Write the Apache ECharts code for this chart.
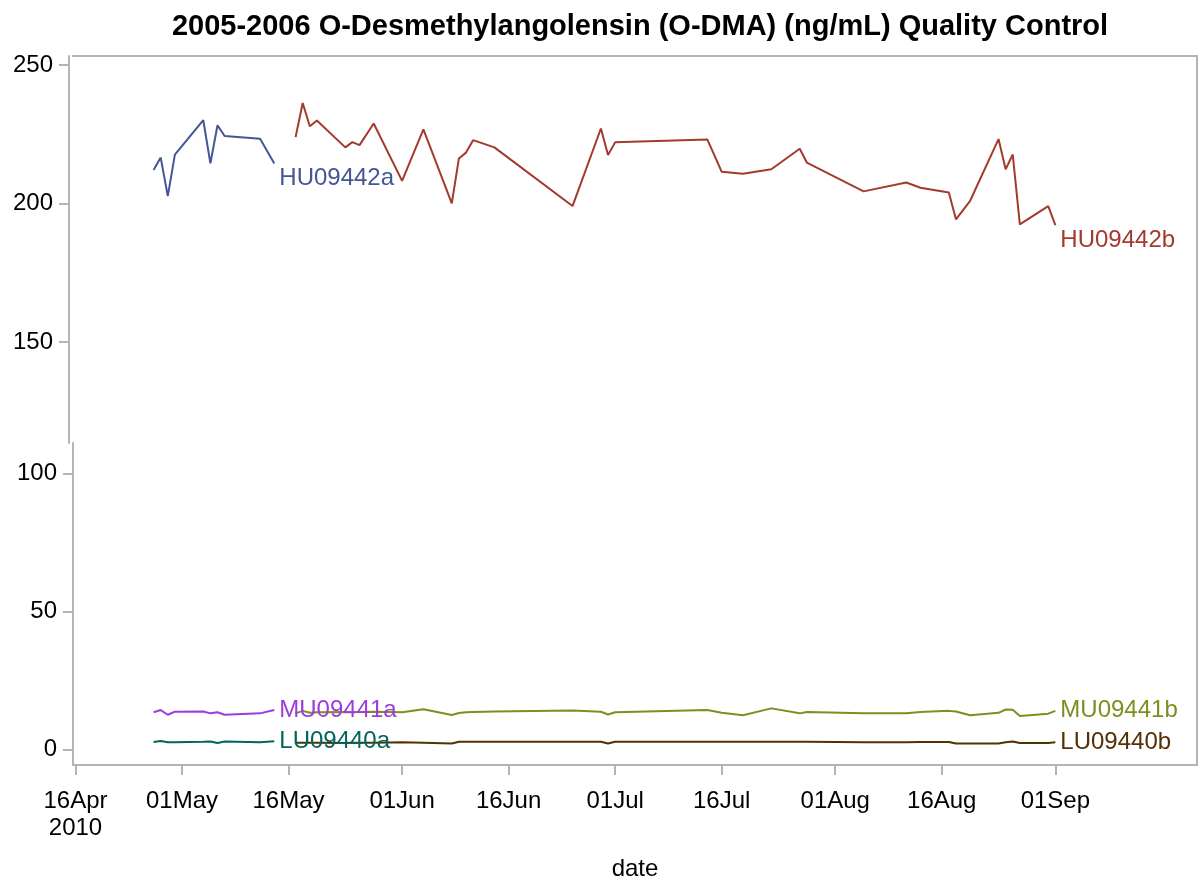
<!DOCTYPE html>
<html>
<head>
<meta charset="utf-8">
<title>O-DMA Quality Control</title>
<script src="https://cdn.jsdelivr.net/npm/echarts@6/dist/echarts.min.js"></script>
<style>
  html, body { margin: 0; padding: 0; background: #fff; }
  #main { width: 1199px; height: 880px; }
</style>
</head>
<body>
<div id="main"></div>
<script>
// run dates of the two lots
const datesA = ['2010-04-27', '2010-04-28', '2010-04-29', '2010-04-30', '2010-05-04',
  '2010-05-05', '2010-05-06', '2010-05-07', '2010-05-12', '2010-05-14'];
const datesB = ['2010-05-17', '2010-05-18', '2010-05-19', '2010-05-20', '2010-05-24',
  '2010-05-25', '2010-05-26', '2010-05-28', '2010-06-01', '2010-06-04', '2010-06-08',
  '2010-06-09', '2010-06-10', '2010-06-11', '2010-06-14', '2010-06-25', '2010-06-29',
  '2010-06-30', '2010-07-01', '2010-07-14', '2010-07-16', '2010-07-19', '2010-07-23',
  '2010-07-27', '2010-07-28', '2010-08-05', '2010-08-11', '2010-08-13', '2010-08-17',
  '2010-08-18', '2010-08-20', '2010-08-24', '2010-08-25', '2010-08-26', '2010-08-27',
  '2010-08-31', '2010-09-01'];

// high pool
const hu09442a = [212.1, 216.6, 202.7, 217.7, 230.1, 214.5, 228.3, 224.4, 223.4, 214.5];
const hu09442b = [224.0, 236.3, 227.9, 230.0, 220.3, 222.2, 221.1, 228.9, 208.2, 226.8,
  200.1, 216.3, 218.4, 222.9, 220.3, 199.1, 227.1, 217.5, 222.1, 223.1, 211.5, 210.8,
  212.4, 219.8, 214.8, 204.4, 207.6, 205.7, 204.0, 194.3, 201.0, 223.3, 212.4, 217.7,
  192.5, 199.1, 192.2];
// medium pool
const mu09441a = [13.5, 14.3, 12.6, 13.7, 13.8, 13.1, 13.5, 12.6, 13.1, 14.3];
const mu09441b = [13.1, 14.0, 13.3, 13.5, 13.6, 13.5, 13.6, 13.7, 13.5, 14.6,
  12.5, 13.2, 13.5, 13.6, 13.8, 14.1, 13.7, 12.7, 13.5, 14.3, 13.3, 12.4,
  14.9, 13.1, 13.6, 13.1, 13.1, 13.6, 14.0, 13.8, 12.4, 13.3, 14.5, 14.4,
  12.1, 13.0, 14.0];
// low pool
const lu09440a = [2.7, 3.1, 2.6, 2.6, 2.8, 2.9, 2.4, 2.9, 2.6, 3.0];
const lu09440b = [2.5, 2.5, 2.5, 2.5, 2.4, 2.5, 2.5, 2.5, 2.6, 2.5,
  2.2, 2.8, 2.8, 2.8, 2.8, 2.8, 2.8, 2.2, 2.8, 2.8, 2.8, 2.8,
  2.8, 2.8, 2.8, 2.6, 2.6, 2.7, 2.7, 2.2, 2.2, 2.2, 2.6, 2.9,
  2.4, 2.4, 2.6];

const xTicks = ['2010-04-16', '2010-05-01', '2010-05-16', '2010-06-01', '2010-06-16',
  '2010-07-01', '2010-07-16', '2010-08-01', '2010-08-16', '2010-09-01'];
const upperTicks = [150, 200, 250];
const lowerTicks = [0, 50, 100];

const monthNames = ['Jan', 'Feb', 'Mar', 'Apr', 'May', 'Jun', 'Jul', 'Aug', 'Sep', 'Oct', 'Nov', 'Dec'];
const DAY = 86400000;

function toTime(s) {
  const p = s.split('-').map(Number);
  return Date.UTC(p[0], p[1] - 1, p[2]);
}
function pairs(dates, vals) {
  return dates.map((d, i) => [toTime(d), vals[i]]);
}

const start = toTime('2010-04-16');
const xMin = start - 0.35 * DAY;
const xMax = start + 157.95 * DAY;
const tickTimes = xTicks.map(toTime);

const FONT = '"Liberation Sans", Arial, Helvetica, sans-serif';
const AXIS = '#b4b4b4';
const colors = {
  hu09442a: '#445694', hu09442b: '#A23A2E',
  lu09440a: '#01665E', lu09440b: '#543005',
  mu09441a: '#9D3CDB', mu09441b: '#7F8E1F'
};

const myChart = echarts.init(document.getElementById('main'));

function line(name, dates, vals, axis, dy) {
  const c = colors[name.toLowerCase()];
  return {
    name: name,
    type: 'line',
    xAxisIndex: axis,
    yAxisIndex: axis * 2,
    data: pairs(dates, vals),
    showSymbol: false,
    symbol: 'none',
    lineStyle: { width: 2, color: c },
    itemStyle: { color: c },
    endLabel: {
      show: true,
      formatter: name,
      color: c,
      fontSize: 24,
      fontFamily: FONT,
      distance: 5,
      offset: [0, dy]
    },
    z: 3
  };
}

const option = {
  animation: false,
  backgroundColor: '#fff',
  textStyle: { fontFamily: FONT },
  title: {
    text: '2005-2006 O-Desmethylangolensin (O-DMA) (ng/mL) Quality Control',
    left: 635,
    textAlign: 'center',
    top: 7,
    textStyle: { fontSize: 29, fontWeight: 'bold', color: '#000', fontFamily: FONT }
  },
  grid: [
    { left: 73, right: 2, top: 56, height: 387, outerBoundsMode: 'none', containLabel: false },
    { left: 73, right: 2, top: 443, bottom: 115, outerBoundsMode: 'none', containLabel: false }
  ],
  xAxis: [
    {
      type: 'value', gridIndex: 0, position: 'top', min: xMin, max: xMax,
      axisLine: { show: true, onZero: false, lineStyle: { color: AXIS, width: 2 } },
      axisTick: { show: false }, axisLabel: { show: false }, splitLine: { show: false }
    },
    {
      type: 'value', gridIndex: 1, position: 'bottom', min: xMin, max: xMax,
      name: 'date', nameLocation: 'middle', nameGap: 92,
      nameTextStyle: { fontSize: 24, color: '#000', fontFamily: FONT },
      axisLine: { show: true, onZero: false, lineStyle: { color: AXIS, width: 2 } },
      axisTick: { show: true, length: 10, customValues: tickTimes, lineStyle: { color: AXIS, width: 2 } },
      axisLabel: {
        show: true, customValues: tickTimes, margin: 23, fontSize: 24, color: '#000',
        fontFamily: FONT, lineHeight: 27, hideOverlap: false,
        formatter: function (v) {
          const d = new Date(v);
          const s = String(d.getUTCDate()).padStart(2, '0') + monthNames[d.getUTCMonth()];
          return v === tickTimes[0] ? s + '\n' + d.getUTCFullYear() : s;
        }
      },
      splitLine: { show: false }
    }
  ],
  yAxis: [
    {
      type: 'value', gridIndex: 0, min: 113.5, max: 253.3, offset: 4,
      axisLine: { show: true, lineStyle: { color: AXIS, width: 2 } },
      axisTick: { show: true, length: 10, customValues: upperTicks, lineStyle: { color: AXIS, width: 2 } },
      axisLabel: { customValues: upperTicks, margin: 16, fontSize: 24, color: '#000', fontFamily: FONT },
      splitLine: { show: false }
    },
    {
      type: 'value', gridIndex: 0, position: 'right', min: 113.5, max: 253.3,
      axisLine: { show: true, lineStyle: { color: AXIS, width: 2 } },
      axisTick: { show: false }, axisLabel: { show: false }, splitLine: { show: false }
    },
    {
      type: 'value', gridIndex: 1, min: -5.6, max: 111,
      axisLine: { show: true, lineStyle: { color: AXIS, width: 2 } },
      axisTick: { show: true, length: 10, customValues: lowerTicks, lineStyle: { color: AXIS, width: 2 } },
      axisLabel: { customValues: lowerTicks, margin: 16, fontSize: 24, color: '#000', fontFamily: FONT },
      splitLine: { show: false }
    },
    {
      type: 'value', gridIndex: 1, position: 'right', min: -5.6, max: 111,
      axisLine: { show: true, lineStyle: { color: AXIS, width: 2 } },
      axisTick: { show: false }, axisLabel: { show: false }, splitLine: { show: false }
    }
  ],
  series: [
    line('HU09442a', datesA, hu09442a, 0, 15),
    line('HU09442b', datesB, hu09442b, 0, 15),
    line('MU09441a', datesA, mu09441a, 1, 0),
    line('MU09441b', datesB, mu09441b, 1, 0),
    line('LU09440a', datesA, lu09440a, 1, 0),
    line('LU09440b', datesB, lu09440b, 1, 0)
  ]
};

myChart.setOption(option);
</script>
</body>
</html>
